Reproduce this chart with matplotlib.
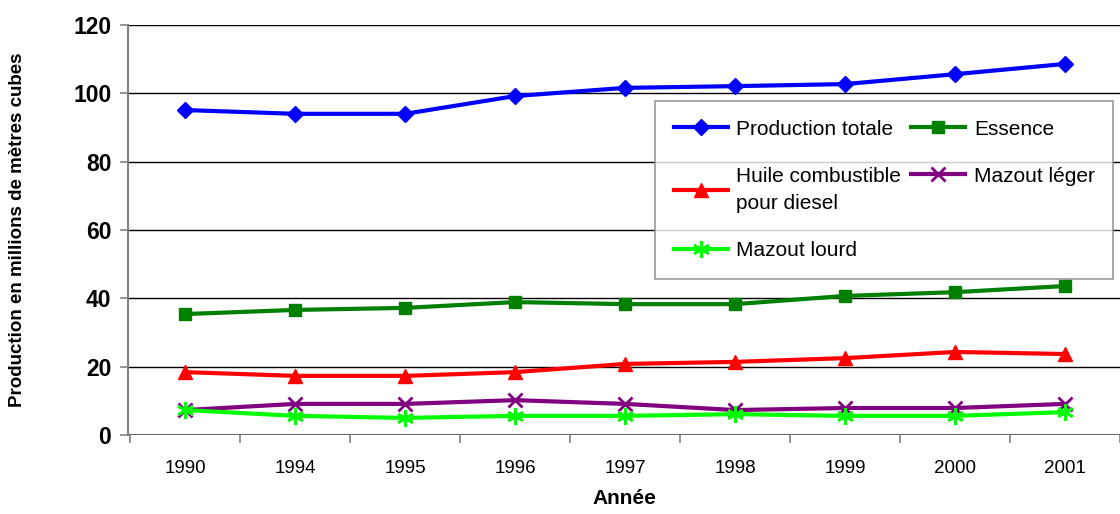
import numpy as np
import matplotlib
matplotlib.use('Agg')
import matplotlib.pyplot as plt
from matplotlib.ticker import FixedLocator

plt.rcParams['font.family'] = ['Liberation Sans', 'DejaVu Sans']

years = ['1990', '1994', '1995', '1996', '1997', '1998', '1999', '2000', '2001']
production = [95.1, 94.0, 94.0, 99.2, 101.6, 102.1, 102.7, 105.6, 108.6]
essence = [35.4, 36.6, 37.2, 38.9, 38.3, 38.3, 40.7, 41.8, 43.6]
huile = [18.4, 17.3, 17.3, 18.4, 20.8, 21.4, 22.5, 24.3, 23.7]
leger = [7.3, 9.1, 9.1, 10.2, 9.1, 7.3, 7.9, 7.9, 9.1]
lourd = [7.3, 5.6, 5.0, 5.6, 5.6, 6.1, 5.6, 5.6, 6.7]

fig = plt.figure(figsize=(11.2, 5.14), dpi=100)
ax = fig.add_axes([0.1143, 0.1537, 0.8857, 0.7977])

x = np.arange(len(years))
lw = 3
h1, = ax.plot(x, production, color='#0000ff', lw=lw, marker='D', ms=8, label='Production totale')
h2, = ax.plot(x, essence, color='#008000', lw=lw, marker='s', ms=9, label='Essence')
h3, = ax.plot(x, huile, color='#ff0000', lw=lw, marker='^', ms=10, label='Huile combustible\npour diesel')
h4, = ax.plot(x, leger, color='#800080', lw=lw, marker='x', ms=10, mew=2, label='Mazout léger')
h5, = ax.plot(x, lourd, color='#00ff00', lw=lw, marker=(6, 2, 0), ms=12, mew=2, label='Mazout lourd')

ax.set_xlim(-0.52, len(years) - 0.5)
ax.set_ylim(0, 120)
ax.set_yticks(range(0, 121, 20))
ax.yaxis.grid(True, color='black', lw=1)
ax.set_axisbelow(True)
for side in ['top', 'right', 'bottom']:
    ax.spines[side].set_visible(False)
ax.spines['left'].set_color('#808080')
ax.spines['left'].set_linewidth(1.5)
ax.axhline(0, color='#808080', lw=1.5, zorder=0)

ax.set_xticks(x)
ax.set_xticklabels(years, fontsize=13.5)
ax.tick_params(axis='x', which='major', length=0, pad=18)
ax.xaxis.set_minor_locator(FixedLocator(np.arange(-0.5, len(years), 1.0)))
ax.tick_params(axis='x', which='minor', length=6, color='#808080', width=1.2)
ax.tick_params(axis='y', length=6, color='#808080', width=1.2, labelsize=16.5, pad=6)
for t in ax.get_yticklabels():
    t.set_fontweight('bold')

ax.set_xlabel('Année', fontsize=15, fontweight='bold', labelpad=9)
ax.set_ylabel('Production en millions de mètres cubes', fontsize=13.5, fontweight='bold', labelpad=34)

leg = ax.legend([h1, h3, h5, h2, h4],
                [h1.get_label(), h3.get_label(), h5.get_label(), h2.get_label(), h4.get_label()],
                ncol=2, loc='upper left', bbox_to_anchor=(0.531, 0.815), borderaxespad=0,
                fontsize=15, frameon=True, fancybox=False, edgecolor='#808080',
                handlelength=2.6, columnspacing=0.5, labelspacing=1.35,
                handletextpad=0.4, borderpad=0.9)
leg.get_frame().set_linewidth(1.2)
for t in leg.get_texts():
    t.set_linespacing(1.55)

fig.savefig('out.png', dpi=100)
